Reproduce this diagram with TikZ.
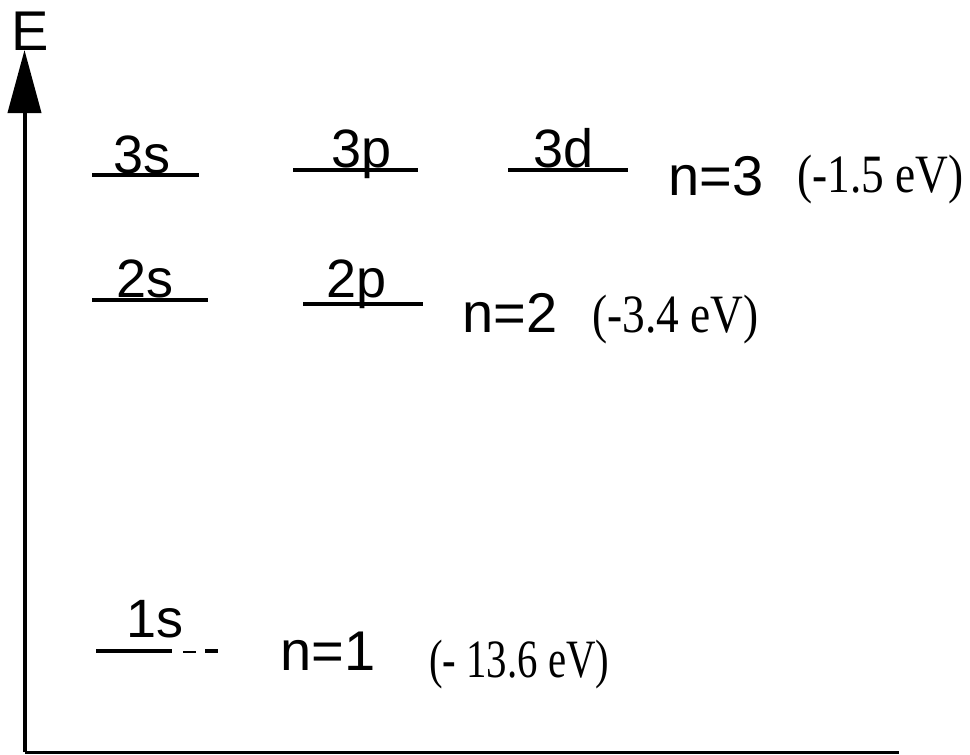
\documentclass[tikz,border=0pt]{standalone}
\usepackage{fontspec}
\setmainfont{Liberation Sans}
\newfontfamily\timesfont{Liberation Serif}
\usetikzlibrary{arrows.meta}
\begin{document}
\begin{tikzpicture}[x=1pt,y=-1pt,
  level/.style={line width=4.5pt},
  orb/.style={anchor=base west,inner sep=0pt,font=\fontsize{54}{60}\selectfont},
  nlab/.style={anchor=base west,inner sep=0pt,font=\fontsize{56}{62}\selectfont},
  ev/.style={anchor=base west,inner sep=0pt,font=\timesfont\fontsize{54}{60}\selectfont,xscale=0.84},
  axisline/.style={line width=4pt}]
\useasboundingbox (0,0) rectangle (970,755);
% axes
\coordinate (origin) at (24.5,752);
\coordinate (ytop) at (24.5,50);
\coordinate (xend) at (899,752);
\draw[axisline,-{Triangle[length=63pt,width=33pt]}] (origin) -- (ytop);
\draw[line width=3pt] (origin) -- (xend);
\node[anchor=base west,inner sep=0pt,font=\fontsize{56}{62}\selectfont] (E) at (11,50) {E};
% n=3 levels
\coordinate (l3sa) at (92,175); \coordinate (l3sb) at (199,175);
\coordinate (l3pa) at (293,170); \coordinate (l3pb) at (418,170);
\coordinate (l3da) at (508,170); \coordinate (l3db) at (628,170);
\draw[level] (l3sa) -- (l3sb);
\draw[level] (l3pa) -- (l3pb);
\draw[level] (l3da) -- (l3db);
\node[orb] (t3s) at (113,173) {3s};
\node[orb] (t3p) at (331,167) {3p};
\node[orb] (t3d) at (533,167) {3d};
\node[nlab] (n3) at (668,195) {n=3};
\node[ev] (e3) at (797,192) {(-1.5 eV)};
% n=2 levels
\coordinate (l2sa) at (92,300); \coordinate (l2sb) at (208,300);
\coordinate (l2pa) at (303,304); \coordinate (l2pb) at (423,304);
\draw[level] (l2sa) -- (l2sb);
\draw[level] (l2pa) -- (l2pb);
\node[orb] (t2s) at (116,297) {2s};
\node[orb] (t2p) at (326,297) {2p};
\node[nlab] (n2) at (462,332) {n=2};
\node[ev] (e2) at (592,332) {(-3.4 eV)};
% n=1 level
\coordinate (l1sa) at (96,651); \coordinate (l1sb) at (172,651);
\coordinate (l1sc) at (183,652); \coordinate (l1sd) at (196,652);
\coordinate (l1se) at (205,651); \coordinate (l1sf) at (218,651);
\draw[level] (l1sa) -- (l1sb);
\draw[line width=2.5pt] (l1sc) -- (l1sd);
\draw[level] (l1se) -- (l1sf);
\node[orb] (t1s) at (126,637) {1s};
\node[nlab] (n1) at (280,670) {n=1};
\node[ev,xscale=0.9] (e1) at (429,677) {(- 13.6 eV)};
\end{tikzpicture}
\end{document}
